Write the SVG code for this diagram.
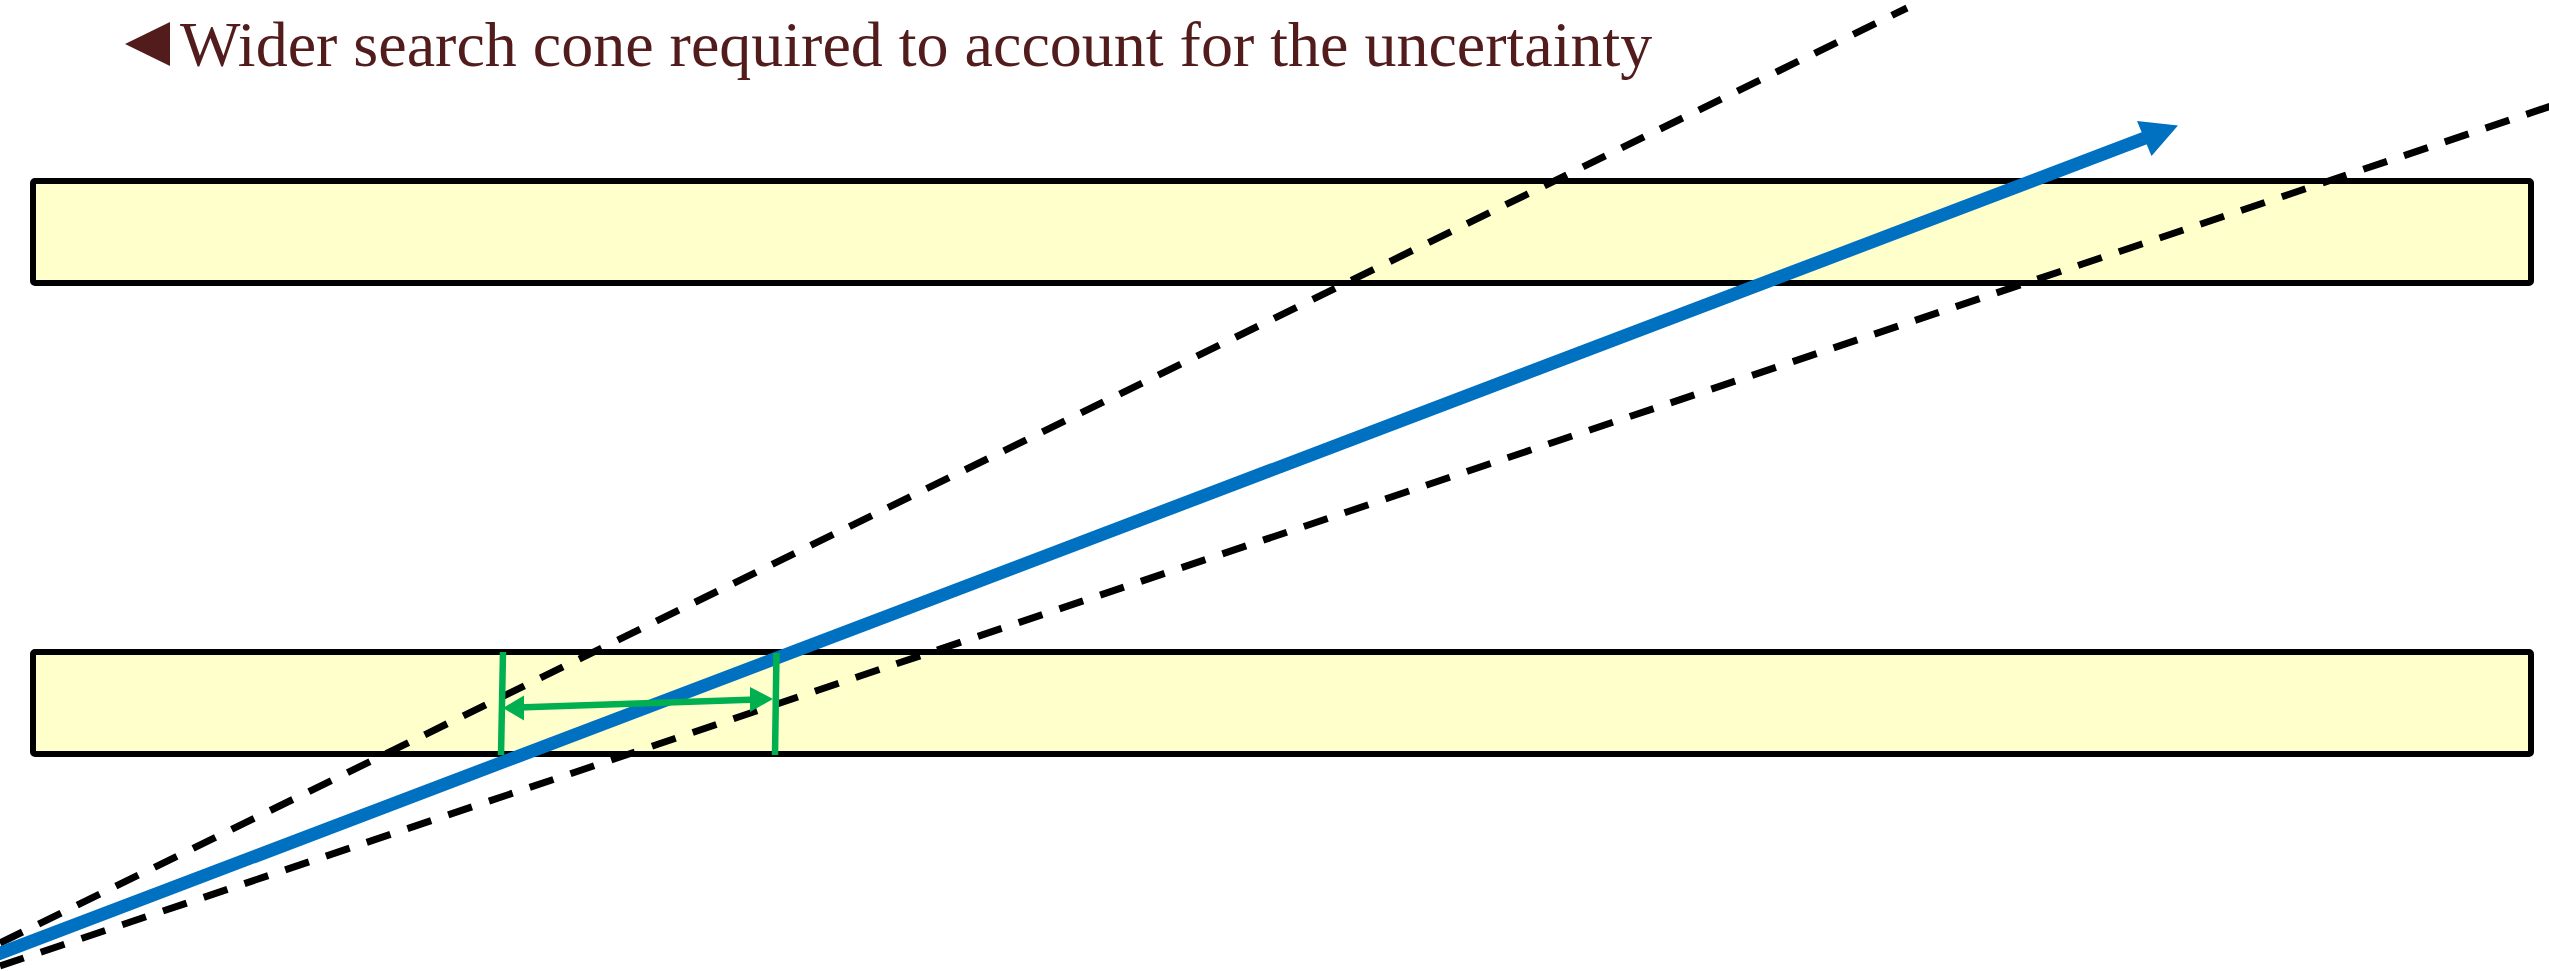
<svg xmlns="http://www.w3.org/2000/svg" width="2549" height="971" viewBox="0 0 2549 971">
  <style>
    .layer { fill: #FFFFCC; stroke: #000000; stroke-width: 6; }
    .cone { fill: none; stroke: #000000; stroke-width: 7; stroke-dasharray: 25 18; }
    .track { fill: none; stroke: #0070C0; stroke-width: 13; }
    .green { fill: none; stroke: #00B050; stroke-width: 6.5; }
    .label { font-family: "Liberation Serif", "Times New Roman", serif; font-size: 64px; fill: #521C1C; }
  </style>
  <rect width="2549" height="971" fill="#FFFFFF"/>
  <g id="title">
    <polygon points="170,22 170,66 125,44" fill="#521C1C"/>
    <text class="label" x="180" y="66">Wider search cone required to account for the uncertainty</text>
  </g>
  <g id="layer-top">
    <rect class="layer" x="33" y="181" width="2498" height="102" rx="2"/>
  </g>
  <g id="layer-bottom">
    <rect class="layer" x="33" y="652" width="2498" height="102" rx="2"/>
  </g>
  <g id="connectors">
    <line id="cone-upper" class="cone" x1="0" y1="943" x2="1907" y2="8"/>
    <line id="cone-lower" class="cone" x1="0" y1="966" x2="2560" y2="103"/>
    <g id="track">
      <line class="track" x1="-10" y1="957" x2="2146" y2="137.7"/>
      <polygon points="2178,125.5 2137,121 2151.5,156" fill="#0070C0"/>
    </g>
    <g id="window">
      <line class="green" x1="503" y1="652" x2="501" y2="755"/>
      <line class="green" x1="776.5" y1="653" x2="775" y2="755"/>
      <line class="green" x1="518" y1="707.5" x2="757" y2="699.5"/>
      <polygon points="503,708 524,695.5 524,720.5" fill="#00B050"/>
      <polygon points="773,699 750,687 750,712" fill="#00B050"/>
    </g>
  </g>
</svg>
